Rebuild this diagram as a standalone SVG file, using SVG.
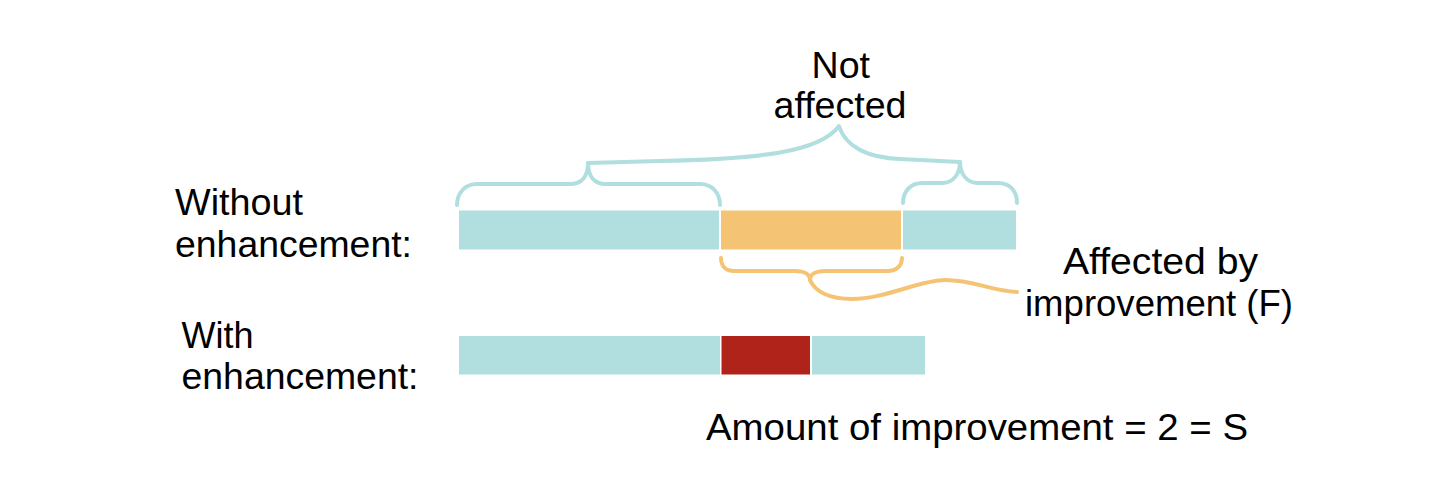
<svg xmlns="http://www.w3.org/2000/svg" width="1440" height="502" viewBox="0 0 1440 502">
<style>
.t{font-family:"Liberation Sans",Arial,sans-serif;font-size:36px;fill:#000}
.teal{fill:#b1dfdf}
.orange{fill:#f5c374}
.red{fill:#b0231a}
.bt{fill:none;stroke:#b1dfdf;stroke-width:4;stroke-linecap:round;stroke-linejoin:round}
.bo{fill:none;stroke:#f5c374;stroke-width:4;stroke-linecap:round;stroke-linejoin:round}
</style>
<rect width="1440" height="502" fill="#fff"/>
<g id="label-without">
<text class="t" x="175" y="215" textLength="128" lengthAdjust="spacingAndGlyphs">Without</text>
<text class="t" x="175" y="256.5" textLength="237" lengthAdjust="spacingAndGlyphs">enhancement:</text>
</g>
<g id="label-with">
<text class="t" x="181.5" y="348" textLength="72" lengthAdjust="spacingAndGlyphs">With</text>
<text class="t" x="181.5" y="389" textLength="237" lengthAdjust="spacingAndGlyphs">enhancement:</text>
</g>
<g id="label-not-affected">
<text class="t" x="811.5" y="78" textLength="58.5" lengthAdjust="spacingAndGlyphs">Not</text>
<text class="t" x="773.5" y="118" textLength="133" lengthAdjust="spacingAndGlyphs">affected</text>
</g>
<g id="label-affected">
<text class="t" x="1063" y="274" textLength="195" lengthAdjust="spacingAndGlyphs">Affected by</text>
<text class="t" x="1025" y="316" textLength="268" lengthAdjust="spacingAndGlyphs">improvement (F)</text>
</g>
<g id="label-amount">
<text class="t" x="706" y="440" textLength="542" lengthAdjust="spacingAndGlyphs">Amount of improvement = 2 = S</text>
</g>
<g id="bar-without">
<rect class="teal" x="459" y="210.5" width="260" height="39"/>
<rect class="orange" x="721" y="210.5" width="180" height="39"/>
<rect class="teal" x="903" y="210.5" width="113" height="39"/>
</g>
<g id="bar-with">
<rect class="teal" x="459" y="336" width="261" height="38.5"/>
<rect class="red" x="721.5" y="336" width="88.5" height="38.5"/>
<rect class="teal" x="812" y="336" width="113" height="38.5"/>
</g>
<g id="connectors">
<path class="bt" d="M457,205 C457,193 465,184 477,184 L570,184 C582,184 588,176 588,163 C588,176 594,184 606,184 L700,184 C712,184 720,193 720,205"/>
<path class="bt" d="M903,203 C903,191 911,183 922,183 L942,183 C954,183 960,173 960,162 C960,173 966,183 978,183 L998,183 C1010,183 1017,191 1017,203"/>
<path class="bt" d="M588,163 L660,161 C760,159 820,152 839,126 C846,148 870,158 900,159 L960,162"/>
<path class="bo" d="M721,258 C721,266 726,271 734,271 L795,271 C804,271 810,274 810,280 C810,274 816,271 825,271 L888,271 C896,271 902,266 902,258"/>
<path class="bo" d="M810,280 C815,292 830,299 852,299 C885,299 920,280 945,280 C975,280 990,291 1017,292"/>
</g>
</svg>
